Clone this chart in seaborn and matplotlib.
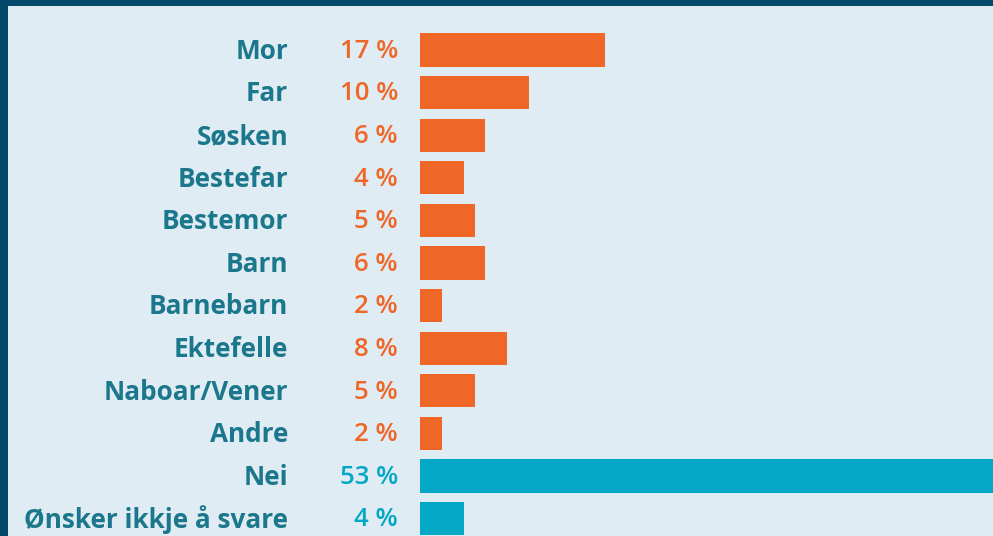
import seaborn as sns
import pandas as pd
import matplotlib.pyplot as plt
from matplotlib.patches import Rectangle

# Data
categories = ["Mor", "Far", "Søsken", "Bestefar", "Bestemor", "Barn", "Barnebarn",
              "Ektefelle", "Naboar/Vener", "Andre", "Nei", "Ønsker ikkje å svare"]
values = [17, 10, 6, 4, 5, 6, 2, 8, 5, 2, 53, 4]
groups = ["ja"] * 10 + ["nei"] * 2

orange = "#ee6727"
blue = "#02a8c6"
label_col = "#1b778b"
bg = "#e0ecf4"
border = "#03476a"

df = pd.DataFrame({"category": categories, "value": values, "group": groups})

W, H = 993, 536
fig = plt.figure(figsize=(W / 100, H / 100), dpi=100)
fig.patch.set_facecolor(border)
fig.patches.append(Rectangle((8 / W, 0), 1, (H - 6) / H, transform=fig.transFigure,
                             facecolor=bg, edgecolor="none", zorder=-10))

ax = fig.add_axes([420 / W, 0, (W - 420) / W, 1])
ax.set_facecolor("none")

sns.barplot(data=df, x="value", y="category", hue="group",
            palette={"ja": orange, "nei": blue}, dodge=False, width=0.78,
            saturation=1, legend=False, ax=ax)

row = 42.6
top = 50
ax.set_ylim((H - top) / row, -top / row)
ax.set_xlim(0, (W - 420) / 10.9)
ax.axis("off")

font = "Open Sans"
tr = ax.get_yaxis_transform()
for i, (cat, val, grp) in enumerate(zip(categories, values, groups)):
    ax.text((288 - 420) / (W - 420), i + 0.03, cat, transform=tr, ha="right",
            va="center", fontsize=18.8, fontweight="bold", family=font, color=label_col)
    ax.text((398 - 420) / (W - 420), i + 0.03, f"{val} %", transform=tr, ha="right",
            va="center", fontsize=18.5, fontweight="semibold", family=font,
            color=orange if grp == "ja" else blue)

fig.savefig("out.png", dpi=100, facecolor=fig.get_facecolor())
